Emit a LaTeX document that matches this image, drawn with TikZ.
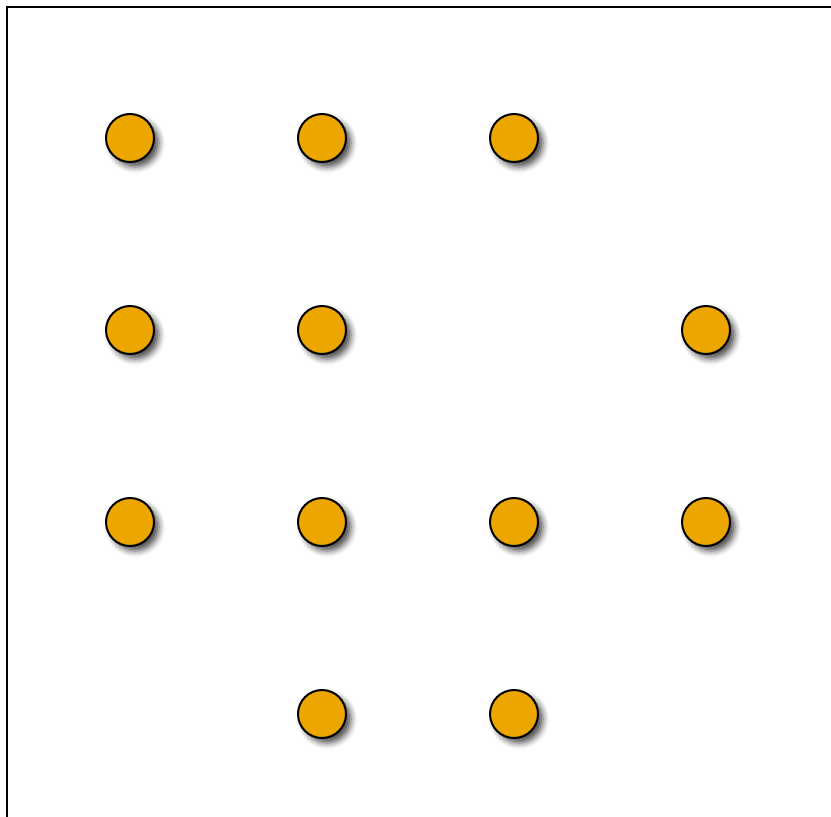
\documentclass[tikz,border=0pt]{standalone}
\usetikzlibrary{shadows.blur}
\definecolor{dotfill}{HTML}{EDA500}
\tikzset{
  dot/.style={circle, draw=black, line width=2pt, fill=dotfill, minimum size=48pt, inner sep=0pt,
    blur shadow={shadow xshift=5pt, shadow yshift=-5pt, shadow blur radius=6pt, shadow opacity=70}},
  frame/.style={draw=black, line width=2pt}
}
\begin{document}
\begin{tikzpicture}[x=1pt,y=-1pt]
\useasboundingbox (0,0) rectangle (831,817);
\begin{scope}
\clip (0,0) rectangle (831,817);
\draw[frame] (7,7) rectangle (845,830);
\end{scope}
\node[dot] (a11) at (130,138) {};
\node[dot] (a12) at (322,138) {};
\node[dot] (a13) at (514,138) {};
\node[dot] (a21) at (130,330) {};
\node[dot] (a22) at (322,330) {};
\node[dot] (a24) at (706,330) {};
\node[dot] (a31) at (130,522) {};
\node[dot] (a32) at (322,522) {};
\node[dot] (a33) at (514,522) {};
\node[dot] (a34) at (706,522) {};
\node[dot] (a42) at (322,714) {};
\node[dot] (a43) at (514,714) {};
\end{tikzpicture}
\end{document}
